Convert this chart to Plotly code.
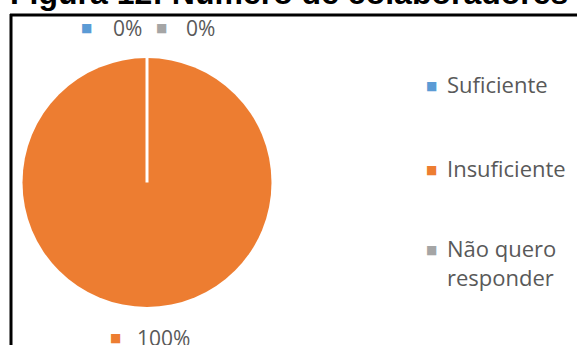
import plotly.graph_objects as go

# Data
categories = ["Suficiente", "Insuficiente", "Não quero responder"]
legend_labels = ["Suficiente", "Insuficiente", "Não quero<br>responder"]
values = [0, 100, 0]
colors = ["#5B9BD5", "#ED7D31", "#A5A5A5"]
title_text = "Figura 12: Número de colaboradores"

W, H = 577, 345
TEXT_GREY = "#595959"
FONT = "Open Sans"


def px(x):
    return x / W


def py(y):
    return 1 - y / H


# Pie geometry (pixels)
cx, cy, r = 147, 182.5, 124.5

total = sum(values)
pcts = [v / total * 100 for v in values]

fig = go.Figure(
    go.Pie(
        labels=categories,
        values=values,
        marker=dict(colors=colors, line=dict(color="white", width=0)),
        textinfo="none",
        sort=False,
        direction="clockwise",
        rotation=0,
        domain=dict(x=[px(cx - r), px(cx + r)], y=[py(cy + r), py(cy - r)]),
        showlegend=False,
        hoverinfo="label+percent",
    )
)

shapes = [
    # slice boundary at 12 o'clock (where the empty slices sit)
    dict(type="line", xref="paper", yref="paper",
         x0=px(cx), x1=px(cx), y0=py(cy), y1=py(cy - r),
         line=dict(color="white", width=3)),
    # frame around the chart
    dict(type="line", xref="paper", yref="paper",
         x0=px(11), x1=px(11), y0=py(14), y1=py(H + 5),
         line=dict(color="black", width=3)),
    dict(type="line", xref="paper", yref="paper",
         x0=px(10), x1=px(W + 5), y0=py(15), y1=py(15),
         line=dict(color="black", width=3)),
]

annotations = [
    dict(text="<b>" + title_text + "</b>", xref="paper", yref="paper",
         x=px(8), y=py(13), xanchor="left", yanchor="bottom",
         showarrow=False,
         font=dict(family="Liberation Sans", size=32, color="black")),
]

# Data labels with legend keys: (key x, text x, y)
label_pos = [(86, 111, 28), (115.5, 135, 338), (161.5, 184, 28)]
for i, (kx, tx, ty) in enumerate(label_pos):
    annotations.append(dict(text="■", xref="paper", yref="paper",
                            x=px(kx), y=py(ty), xanchor="center", yanchor="middle",
                            showarrow=False,
                            font=dict(family="DejaVu Sans", size=12, color=colors[i])))
    annotations.append(dict(text=f"{pcts[i]:.0f}%", xref="paper", yref="paper",
                            x=px(tx), y=py(ty), xanchor="left", yanchor="middle",
                            showarrow=False,
                            font=dict(family=FONT, size=21, color=TEXT_GREY)))

# Legend
legend_rows = [86, 170, 250]
for i, ly in enumerate(legend_rows):
    annotations.append(dict(text="■", xref="paper", yref="paper",
                            x=px(431.5), y=py(ly), xanchor="center", yanchor="middle",
                            showarrow=False,
                            font=dict(family="DejaVu Sans", size=12, color=colors[i])))
    annotations.append(dict(text=legend_labels[i], xref="paper", yref="paper",
                            x=px(445), y=py(ly - 19), xanchor="left", yanchor="top",
                            align="left", showarrow=False,
                            font=dict(family=FONT, size=22, color=TEXT_GREY)))

fig.update_layout(
    width=W, height=H,
    margin=dict(l=0, r=0, t=0, b=0),
    paper_bgcolor="white", plot_bgcolor="white",
    shapes=shapes,
    annotations=annotations,
)

fig.write_html("out.html")
